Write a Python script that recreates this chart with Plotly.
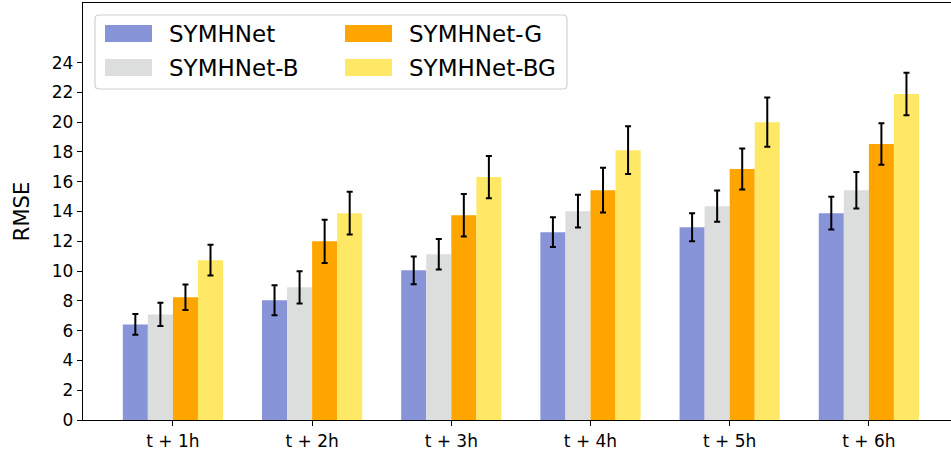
import plotly.graph_objects as go

categories = ["t + 1h", "t + 2h", "t + 3h", "t + 4h", "t + 5h", "t + 6h"]
series_names = ["SYMHNet", "SYMHNet-B", "SYMHNet-G", "SYMHNet-BG"]

symhnet = [6.42, 8.04, 10.05, 12.61, 12.95, 13.89]
symhnet_err = [0.70, 1.00, 0.93, 1.00, 0.94, 1.10]
symhnet_b = [7.09, 8.91, 11.13, 14.02, 14.36, 15.43]
symhnet_b_err = [0.78, 1.08, 1.02, 1.10, 1.05, 1.23]
symhnet_g = [8.24, 12.00, 13.75, 15.43, 16.85, 18.53]
symhnet_g_err = [0.85, 1.45, 1.43, 1.50, 1.38, 1.39]
symhnet_bg = [10.73, 13.89, 16.31, 18.12, 20.00, 21.89]
symhnet_bg_err = [1.03, 1.43, 1.42, 1.60, 1.65, 1.43]

y_ticks = list(range(0, 25, 2))

colors = ["#8894D8", "#DCDDDD", "#FFA500", "#FFE866"]
values = [symhnet, symhnet_b, symhnet_g, symhnet_bg]
errors = [symhnet_err, symhnet_b_err, symhnet_g_err, symhnet_bg_err]

FONT = "DejaVu Sans"
W, H = 951, 458
ML, MR, MT, MB = 83, 0, 3, 38

fig = go.Figure()
xs = list(range(len(categories)))
for name, vals, errs, col in zip(series_names, values, errors, colors):
    fig.add_trace(go.Bar(
        x=xs, y=vals, name=name,
        marker=dict(color=col, line=dict(width=0)),
        error_y=dict(type="data", array=errs, visible=True,
                     color="black", thickness=2, width=3),
        showlegend=False,
    ))

# manual legend in pixel space -> paper coords
pw = W - ML - MR
ph = H - MT - MB
def px(x):
    return (x - ML) / pw
def py(y):
    return (H - MB - y) / ph

shapes = []
annotations = []
x0, x1, y0, y1, r = 95, 567, 15, 89, 4
path = (f"M {px(x0+r)},{py(y0)} L {px(x1-r)},{py(y0)} Q {px(x1)},{py(y0)} {px(x1)},{py(y0+r)} "
        f"L {px(x1)},{py(y1-r)} Q {px(x1)},{py(y1)} {px(x1-r)},{py(y1)} "
        f"L {px(x0+r)},{py(y1)} Q {px(x0)},{py(y1)} {px(x0)},{py(y1-r)} "
        f"L {px(x0)},{py(y0+r)} Q {px(x0)},{py(y0)} {px(x0+r)},{py(y0)} Z")
shapes.append(dict(type="path", xref="paper", yref="paper", path=path,
                   line=dict(color="#D0D0D0", width=1.2), fillcolor="rgba(255,255,255,0.85)",
                   layer="above"))
col_x = [105, 345]
row_y = [33.5, 67.5]
for i, (name, col) in enumerate(zip(series_names, colors)):
    c = i // 2
    rr = i % 2
    xa = col_x[c]
    yc = row_y[rr]
    shapes.append(dict(type="rect", xref="paper", yref="paper",
                       x0=px(xa), x1=px(xa + 47), y0=py(yc + 8.5), y1=py(yc - 8.5),
                       fillcolor=col, line=dict(width=0), layer="above"))
    annotations.append(dict(xref="paper", yref="paper", x=px(xa + 62), y=py(yc),
                            text=name, showarrow=False, xanchor="left", yanchor="middle",
                            font=dict(family=FONT, size=23, color="black")))

fig.update_layout(
    width=W, height=H,
    margin=dict(l=ML, r=MR, t=MT, b=MB, pad=0),
    barmode="group", bargap=0.28, bargroupgap=0,
    plot_bgcolor="white", paper_bgcolor="white",
    font=dict(family=FONT, size=17, color="black"),
    shapes=shapes, annotations=annotations,
    xaxis=dict(
        range=[-0.646, 5.59], tickvals=xs, ticktext=categories,
        showgrid=False, zeroline=False,
        showline=True, linecolor="black", linewidth=1.3, mirror=True,
        ticks="outside", ticklen=5, tickwidth=1.3, tickcolor="black",
        tickfont=dict(family=FONT, size=17, color="black"),
    ),
    yaxis=dict(
        range=[0, 28], tickvals=y_ticks, ticktext=[str(v) for v in y_ticks],
        showgrid=False, zeroline=False,
        showline=True, linecolor="black", linewidth=1.3,
        ticks="outside", ticklen=5, tickwidth=1.3, tickcolor="black",
        tickfont=dict(family=FONT, size=17, color="black"),
        title=dict(text="RMSE", font=dict(family=FONT, size=21, color="black"), standoff=16),
    ),
)

fig.write_html("out.html", config={"displayModeBar": False},
               post_script="document.body.style.margin='0';document.body.style.overflow='hidden';")
